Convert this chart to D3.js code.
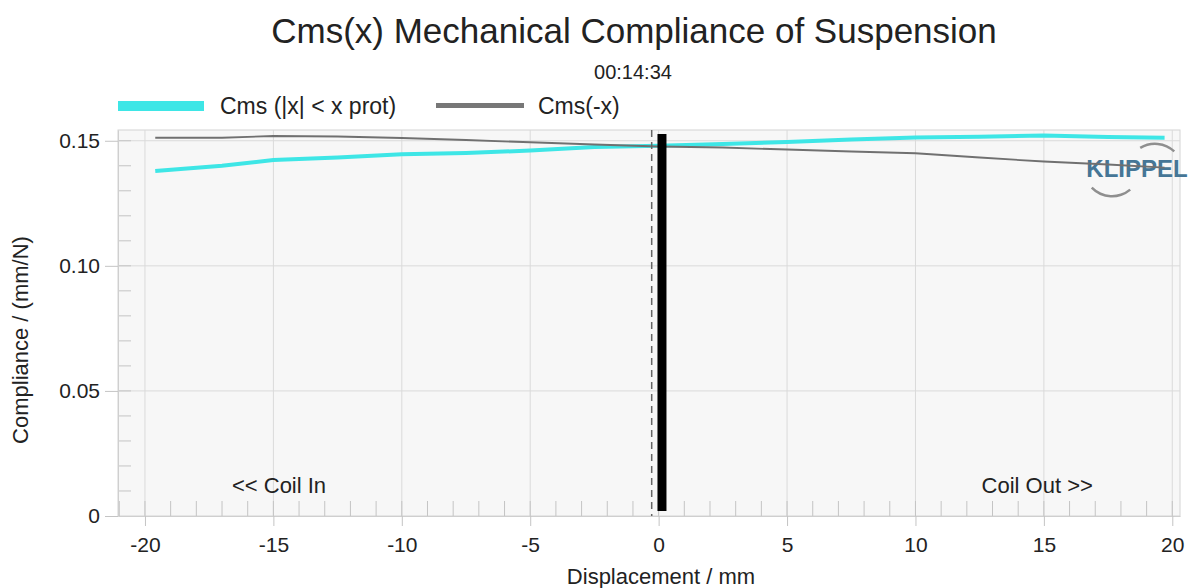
<!DOCTYPE html>
<html>
<head>
<meta charset="utf-8">
<script src="https://cdn.jsdelivr.net/npm/d3@7"></script>
<style>
  body { margin: 0; background: #fff; }
  svg { font-family: "Liberation Sans", Arial, sans-serif; }
</style>
</head>
<body>
<svg id="chart" width="1200" height="588"></svg>
<script>
// displacement (mm) and compliance (mm/N)
const xValues = [-19.6, -17, -15, -12.5, -10, -7.5, -5, -2.5, 0, 2.5, 5, 7.5, 10, 12.5, 15, 17.5, 19.7];
const cmsProt = [0.1379, 0.1400, 0.1423, 0.1433, 0.1446, 0.1451, 0.1461, 0.1475, 0.1480, 0.1487, 0.1495, 0.1505, 0.1513, 0.1516, 0.1521, 0.1515, 0.1512];
const cmsMinus = [0.1512, 0.1512, 0.1519, 0.1517, 0.1511, 0.1503, 0.1494, 0.1485, 0.1477, 0.1473, 0.1465, 0.1457, 0.1450, 0.1433, 0.1417, 0.1405, 0.1393];
const xTicks = [-20, -15, -10, -5, 0, 5, 10, 15, 20];
const yTicks = [0, 0.05, 0.10, 0.15];
const xProtMarker = 0.13;  // black bar
const xRestMarker = -0.27; // dashed line

const margin = { top: 130, right: 20, bottom: 72, left: 118 };
const width = 1200 - margin.left - margin.right;
const height = 588 - margin.top - margin.bottom;

const svg = d3.select('#chart');

const xScale = d3.scaleLinear().domain([-21.05, 20.3]).range([0, width]);
const yScale = d3.scaleLinear().domain([0, 0.1543]).range([height, 0]);

svg.append('text')
    .attr('x', 634).attr('y', 43)
    .attr('text-anchor', 'middle')
    .attr('font-size', 35)
    .attr('fill', '#222')
    .text('Cms(x) Mechanical Compliance of Suspension');

svg.append('text')
    .attr('x', 633).attr('y', 79)
    .attr('text-anchor', 'middle')
    .attr('font-size', 20)
    .attr('fill', '#222')
    .text('00:14:34');

// legend
const legend = svg.append('g');
legend.append('rect').attr('x', 118).attr('y', 101).attr('width', 86).attr('height', 10).attr('fill', '#3ee6e6');
legend.append('text').attr('x', 220).attr('y', 114).attr('font-size', 23).attr('fill', '#222').text('Cms (|x| < x prot)');
legend.append('rect').attr('x', 436).attr('y', 103).attr('width', 88).attr('height', 5).attr('fill', '#777');
legend.append('text').attr('x', 538).attr('y', 114).attr('font-size', 23).attr('fill', '#222').text('Cms(-x)');

const chart = svg.append('g')
    .attr('transform', `translate(${margin.left},${margin.top})`);

chart.append('rect')
    .attr('width', width).attr('height', height)
    .attr('fill', '#f7f7f7')
    .attr('stroke', '#d4d4d4');

// grid
chart.append('g').selectAll('line')
    .data(xTicks)
    .join('line')
    .attr('x1', d => xScale(d)).attr('x2', d => xScale(d))
    .attr('y1', 0).attr('y2', height)
    .attr('stroke', '#dadada');

chart.append('g').selectAll('line')
    .data(yTicks.filter(d => d > 0))
    .join('line')
    .attr('x1', 0).attr('x2', width)
    .attr('y1', d => yScale(d)).attr('y2', d => yScale(d))
    .attr('stroke', '#dadada');

// minor ticks inside
chart.append('g').selectAll('line')
    .data(d3.range(-21, 21))
    .join('line')
    .attr('x1', d => xScale(d)).attr('x2', d => xScale(d))
    .attr('y1', height).attr('y2', height - 15)
    .attr('stroke', '#c4c4c4');

chart.append('g').selectAll('line')
    .data(d3.range(1, 16).map(d => d / 100))
    .join('line')
    .attr('x1', 0).attr('x2', 13)
    .attr('y1', d => yScale(d)).attr('y2', d => yScale(d))
    .attr('stroke', '#c4c4c4');

// axes
const xAxis = d3.axisBottom(xScale)
    .tickValues(xTicks)
    .tickSizeInner(10)
    .tickSizeOuter(0)
    .tickPadding(11)
    .tickFormat(d => d);

const yAxis = d3.axisLeft(yScale)
    .tickValues(yTicks)
    .tickSizeInner(13)
    .tickSizeOuter(0)
    .tickPadding(5)
    .tickFormat(d => d === 0 ? '0' : d3.format('.2f')(d));

const xAxisG = chart.append('g')
    .attr('transform', `translate(0,${height})`)
    .call(xAxis);
const yAxisG = chart.append('g').call(yAxis);

[xAxisG, yAxisG].forEach(g => {
    g.select('.domain').attr('stroke', '#cfcfcf');
    g.selectAll('.tick line').attr('stroke', '#c4c4c4');
    g.selectAll('.tick text')
        .attr('font-size', 21)
        .attr('fill', '#222')
        .attr('font-family', '"Liberation Sans", Arial, sans-serif');
});

svg.append('text')
    .attr('x', 661).attr('y', 584)
    .attr('text-anchor', 'middle')
    .attr('font-size', 22)
    .attr('fill', '#222')
    .text('Displacement / mm');

svg.append('text')
    .attr('transform', 'translate(28,340) rotate(-90)')
    .attr('text-anchor', 'middle')
    .attr('font-size', 22)
    .attr('fill', '#222')
    .text('Compliance / (mm/N)');

chart.append('text')
    .attr('x', xScale(-14.78)).attr('y', yScale(0.009))
    .attr('text-anchor', 'middle')
    .attr('font-size', 22)
    .attr('fill', '#222')
    .text('<< Coil In');

chart.append('text')
    .attr('x', xScale(14.74)).attr('y', yScale(0.009))
    .attr('text-anchor', 'middle')
    .attr('font-size', 22)
    .attr('fill', '#222')
    .text('Coil Out >>');

// logo (under the curves)
const logo = svg.append('g');
logo.append('path')
    .attr('transform', 'translate(1155,172)')
    .attr('d', d3.arc()({ innerRadius: 27, outerRadius: 29.5, startAngle: -0.55, endAngle: 0.75 }))
    .attr('fill', '#8f8f8f');
logo.append('path')
    .attr('transform', 'translate(1112,168)')
    .attr('d', d3.arc()({ innerRadius: 27, outerRadius: 29.5, startAngle: Math.PI - 0.7, endAngle: Math.PI + 0.8 }))
    .attr('fill', '#8f8f8f');
logo.append('text')
    .attr('text-anchor', 'middle')
    .attr('x', 1137)
    .attr('y', 177)
    .attr('font-size', 24)
    .attr('font-weight', 'bold')
    .attr('fill', '#457696')
    .text('KLIPPEL');

const lines = svg.append('g')
    .attr('transform', `translate(${margin.left},${margin.top})`);

const line = d3.line()
    .x((d, i) => xScale(xValues[i]))
    .y(d => yScale(d));

lines.append('path')
    .datum(cmsProt)
    .attr('d', line)
    .attr('fill', 'none')
    .attr('stroke', '#3ee6e6')
    .attr('stroke-width', 4);

lines.append('path')
    .datum(cmsMinus)
    .attr('d', line)
    .attr('fill', 'none')
    .attr('stroke', '#707070')
    .attr('stroke-width', 1.8);

// markers
lines.append('line')
    .attr('x1', xScale(xRestMarker)).attr('x2', xScale(xRestMarker))
    .attr('y1', 0).attr('y2', height)
    .attr('stroke', '#666')
    .attr('stroke-width', 1.5)
    .attr('stroke-dasharray', '7,5');

lines.append('line')
    .attr('x1', xScale(xProtMarker)).attr('x2', xScale(xProtMarker))
    .attr('y1', 4).attr('y2', height - 5)
    .attr('stroke', '#000')
    .attr('stroke-width', 9);
</script>
</body>
</html>
